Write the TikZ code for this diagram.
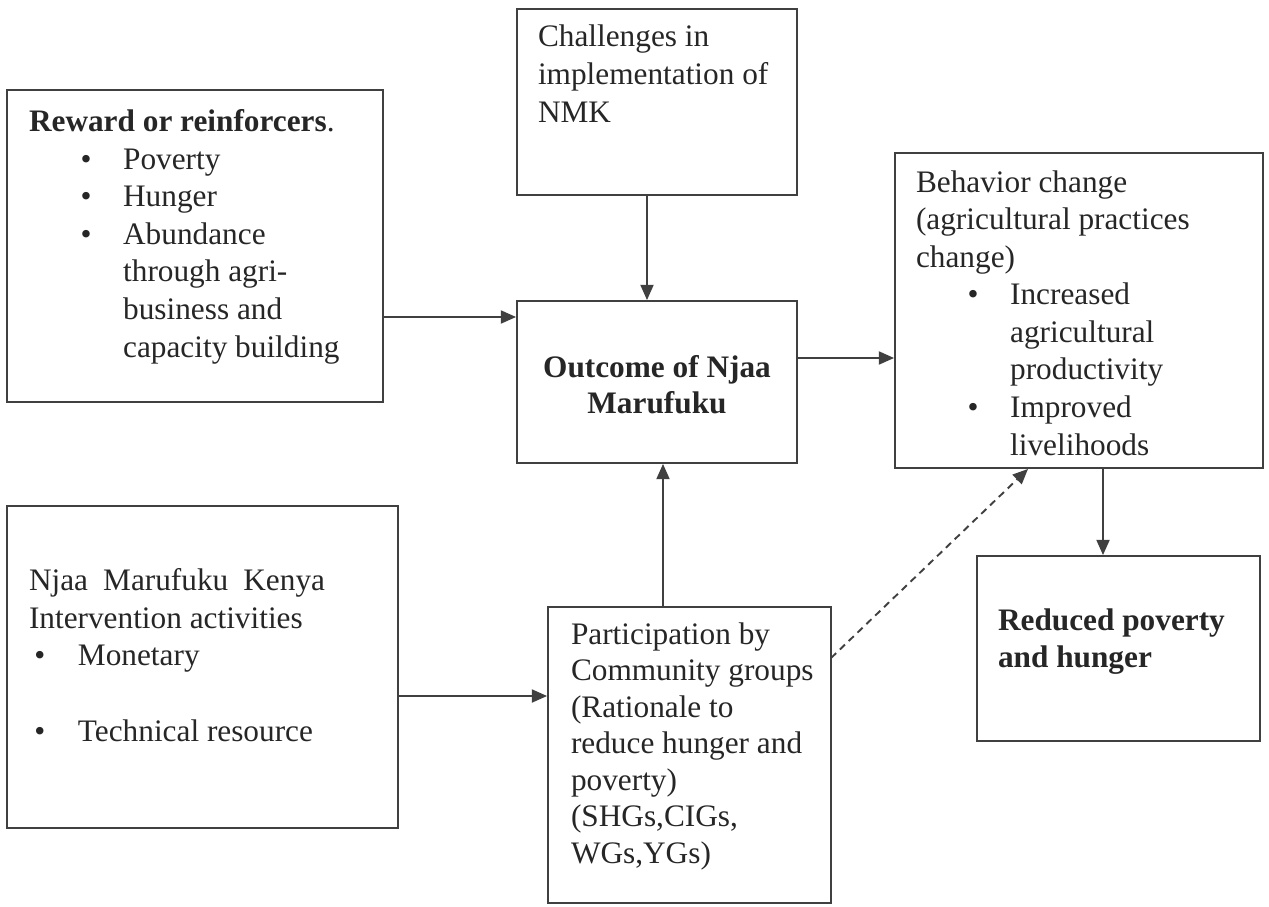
\documentclass[tikz,border=0pt]{standalone}
\usepackage{fontspec}
\setmainfont{Liberation Serif}
\usetikzlibrary{arrows.meta,fit}

\tikzset{every picture/.style={line width=0.75pt}}
\tikzset{
  box/.style={draw=black!75, line width=0.7pt, inner sep=0pt},
  txt/.style={anchor=base west, inner sep=0pt, align=left, text=black!85, font=\fontsize{11.5}{13.8}\selectfont},
  arr/.style={draw=black!75, line width=0.7pt, -{Triangle[length=5.6pt,width=4.8pt]}},
}
\newcommand{\bitem}[1]{\hspace*{19pt}\makebox[15.6pt][l]{\textbullet}#1}
\newcommand{\bcont}[1]{\hspace*{34.6pt}#1}

\begin{document}
\begin{tikzpicture}[x=0.75pt,y=0.75pt,yscale=-0.49,xscale=0.49]
		\useasboundingbox (0,0) rectangle (1269,907);
		
		%Shape: Rectangle 
		\node [box, fit={(7,90) (383,402)}] (reward) {};
		%Shape: Rectangle 
		\node [box, fit={(517,9) (797,195)}] (challenge) {};
		%Shape: Rectangle 
		\node [box, fit={(517,301) (797,463)}] (outcome) {};
		%Shape: Rectangle 
		\node [box, fit={(895,153) (1263,468)}] (behavior) {};
		%Shape: Rectangle 
		\node [box, fit={(977,556) (1260,741)}] (reduced) {};
		%Shape: Rectangle 
		\node [box, fit={(7,506) (398,828)}] (nmk) {};
		%Shape: Rectangle 
		\node [box, fit={(548,607) (831,903)}] (groups) {};
		
		% Text Node (placed at the baseline of its last line)
		\node [txt] (rewardtxt) at (28,357) {\textbf{Reward or reinforcers}.\\\bitem{Poverty}\\\bitem{Hunger}\\\bitem{Abundance}\\\bcont{through agri-}\\\bcont{business and}\\\bcont{capacity building}};
		% Text Node
		\node [txt] (challengetxt) at (537,122) {Challenges in\\implementation of\\NMK};
		% Text Node
		\node [txt, anchor=base, align=center, font=\bfseries\fontsize{11.5}{13.2}\selectfont] (outcometxt) at (657,413) {Outcome of Njaa\\Marufuku};
		% Text Node
		\node [txt] (behaviortxt) at (915,455) {Behavior change\\(agricultural practices\\change)\\\bitem{Increased}\\\bcont{agricultural}\\\bcont{productivity}\\\bitem{Improved}\\\bcont{livelihoods}};
		% Text Node
		\node [txt, font=\bfseries\fontsize{11.5}{13.6}\selectfont] (reducedtxt) at (997,667) {Reduced poverty\\and hunger};
		% Text Node
		\node [txt] (nmktxt) at (28,741) {\makebox[108.8pt][s]{Njaa\hfill Marufuku\hfill Kenya}\\Intervention activities\\\hspace*{2pt}\makebox[16pt][l]{\textbullet}Monetary\\[13.8pt]\hspace*{2pt}\makebox[16pt][l]{\textbullet}Technical resource};
		% Text Node
		\node [txt, font=\fontsize{11.5}{13.4}\selectfont] (groupstxt) at (570,863) {Participation by\\Community groups\\(Rationale to\\reduce hunger and\\poverty)\\(SHGs,CIGs,\\WGs,YGs)};
		
		%Straight Lines
		\coordinate (p1) at (383,317);
		\coordinate (p2) at (647,195);
		\coordinate (p3) at (797,358);
		\coordinate (p4) at (398,696);
		\coordinate (p5) at (663,607);
		\coordinate (p6) at (831,658);
		\coordinate (p7) at (1028,468);
		\coordinate (p8) at (1103,468);
		\draw [arr] (p1) -- (p1 -| outcome.west);
		\draw [arr] (p2) -- (p2 |- outcome.north);
		\draw [arr] (p3) -- (p3 -| behavior.west);
		\draw [arr] (p4) -- (p4 -| groups.west);
		\draw [arr] (p5) -- (p5 |- outcome.south);
		\draw [arr, dash pattern=on 2.6pt off 1.9pt] (p6) -- (p7 |- behavior.south);
		\draw [arr] (p8) -- (p8 |- reduced.north);
	\end{tikzpicture}
\end{document}
